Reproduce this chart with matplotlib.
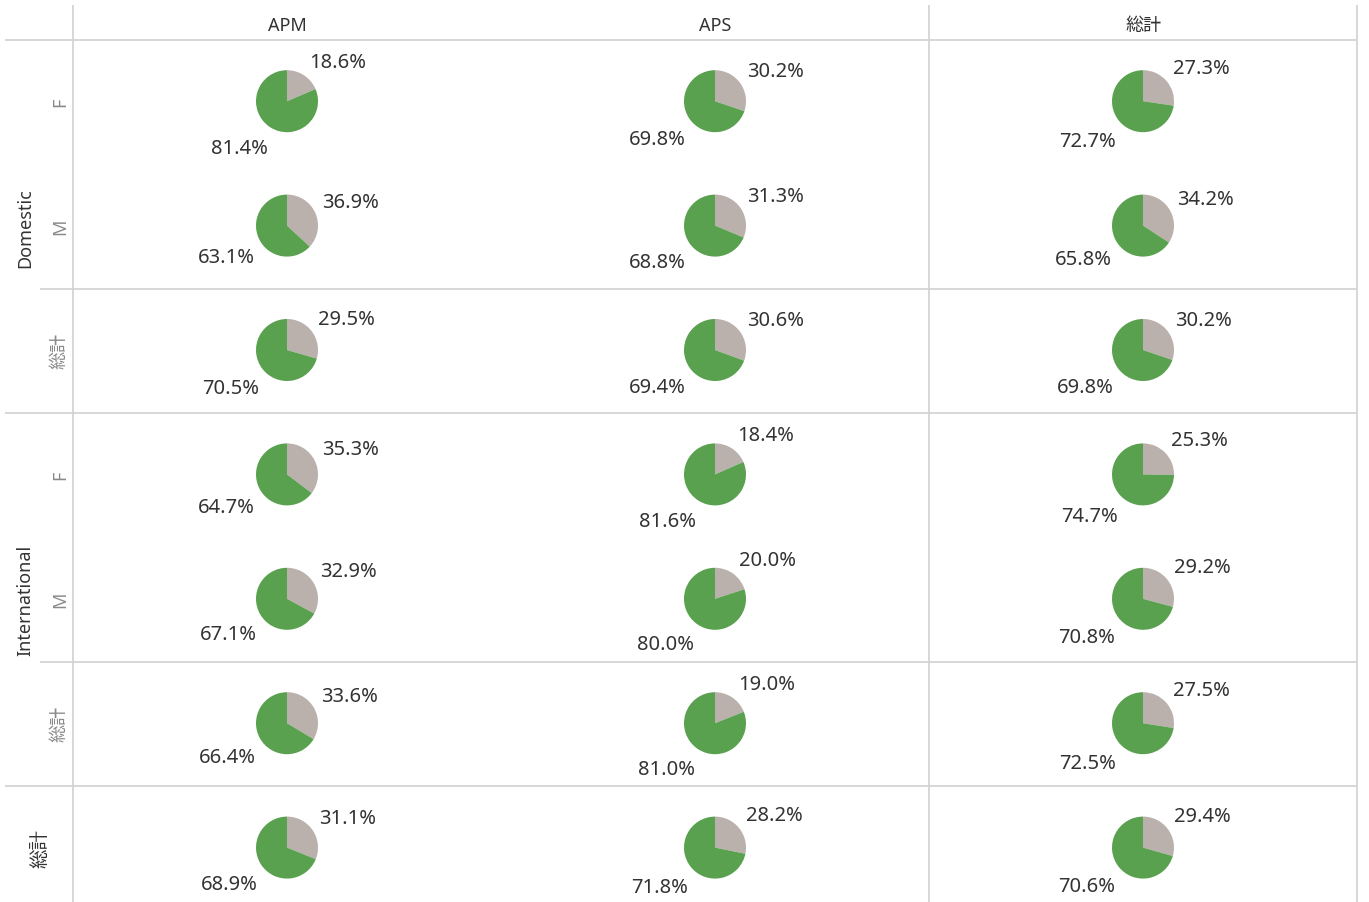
import numpy as np
import matplotlib
matplotlib.use("Agg")
import matplotlib.pyplot as plt

plt.rcParams['font.family'] = ['Noto Sans', 'Noto Sans CJK JP', 'DejaVu Sans']

# ---- data ----
columns = ["APM", "APS", "総計"]
groups = ["Domestic", "International"]
sub_rows = ["F", "M", "総計"]
row_labels = ["Domestic F", "Domestic M", "Domestic 総計",
              "International F", "International M", "International 総計", "総計"]
gray_pct = [
    [18.6, 30.2, 27.3],
    [36.9, 31.3, 34.2],
    [29.5, 30.6, 30.2],
    [35.3, 18.4, 25.3],
    [32.9, 20.0, 29.2],
    [33.6, 19.0, 27.5],
    [31.1, 28.2, 29.4],
]
green_pct = [
    [81.4, 69.8, 72.7],
    [63.1, 68.8, 65.8],
    [70.5, 69.4, 69.8],
    [64.7, 81.6, 74.7],
    [67.1, 80.0, 70.8],
    [66.4, 81.0, 72.5],
    [68.9, 71.8, 70.6],
]

GRAY = "#BAB0AC"
GREEN = "#59A14F"
LINE = "#D4D4D4"
TXT = "#333333"

W, H = 1369, 903
fig = plt.figure(figsize=(W / 100, H / 100), dpi=100)
ax = fig.add_axes([0, 0, 1, 1])

def Y(y):
    return H - y

col_edges = [73, 501, 929, 1357]
row_top = 41
row_h = 124.4
R = 31

col_centers = [(col_edges[i] + col_edges[i + 1]) / 2 for i in range(3)]
row_centers = [row_top + row_h * (i + 0.5) - 1 for i in range(7)]

# grid lines
def hline(y, x0, x1):
    ax.plot([x0, x1], [Y(y), Y(y)], color=LINE, lw=1.3, solid_capstyle='butt')

def vline(x, y0, y1):
    ax.plot([x, x], [Y(y0), Y(y1)], color=LINE, lw=1.3, solid_capstyle='butt')

hline(41, 5, 1357)
hline(row_top + row_h * 2, 40, 1357)
hline(row_top + row_h * 3, 5, 1357)
hline(row_top + row_h * 5, 40, 1357)
hline(row_top + row_h * 6, 5, 1357)
vline(73, 6, H)
vline(929, 6, H)
vline(1357, 6, H)

# column headers
for cx, name in zip(col_centers, columns):
    ax.text(cx, Y(26), name, ha='center', va='center', fontsize=13, color=TXT)

# row headers
for gi, g in enumerate(groups):
    yc = row_top + row_h * (3 * gi + 1.5)
    ax.text(25, Y(yc), g, rotation=90, ha='center', va='center', fontsize=13, color=TXT)
    for si, s in enumerate(sub_rows):
        yy = row_centers[3 * gi + si]
        ax.text(60, Y(yy), s, rotation=90, ha='center', va='center', fontsize=13,
                color="#8A8A8A")
ax.text(40, Y(row_centers[6]), "総計", rotation=90, ha='center', va='center',
        fontsize=14, color=TXT)

# pies
tw, th = 62, 19
for ri in range(7):
    for ci in range(3):
        cx, cy = col_centers[ci], Y(row_centers[ri])
        g, gr = gray_pct[ri][ci], green_pct[ri][ci]
        ax.pie([g, gr], colors=[GRAY, GREEN], startangle=90, counterclock=False,
               center=(cx, cy), radius=R, frame=True,
               wedgeprops=dict(linewidth=0))
        # labels at mid-angle of each slice
        mids = [g / 2, g + gr / 2]
        for k, (val, m) in enumerate(zip([g, gr], mids)):
            theta = np.deg2rad(m / (g + gr) * 360)
            dx, dy = np.sin(theta), np.cos(theta)  # data coords (y up)
            px = cx + (R + 5) * dx
            py = cy + (R + 5) * dy
            tx = px + np.sign(dx) * tw / 2
            ty = py + np.sign(dy) * th / 2
            if k == 1:
                tx += 3
                ty -= 7
            ax.text(tx, ty, f"{val:.1f}%", ha='center', va='center',
                    fontsize=14.5, color=TXT)

ax.set_xlim(0, W)
ax.set_ylim(0, H)
ax.set_aspect('auto')
ax.axis('off')
fig.savefig("out.png", dpi=100)
